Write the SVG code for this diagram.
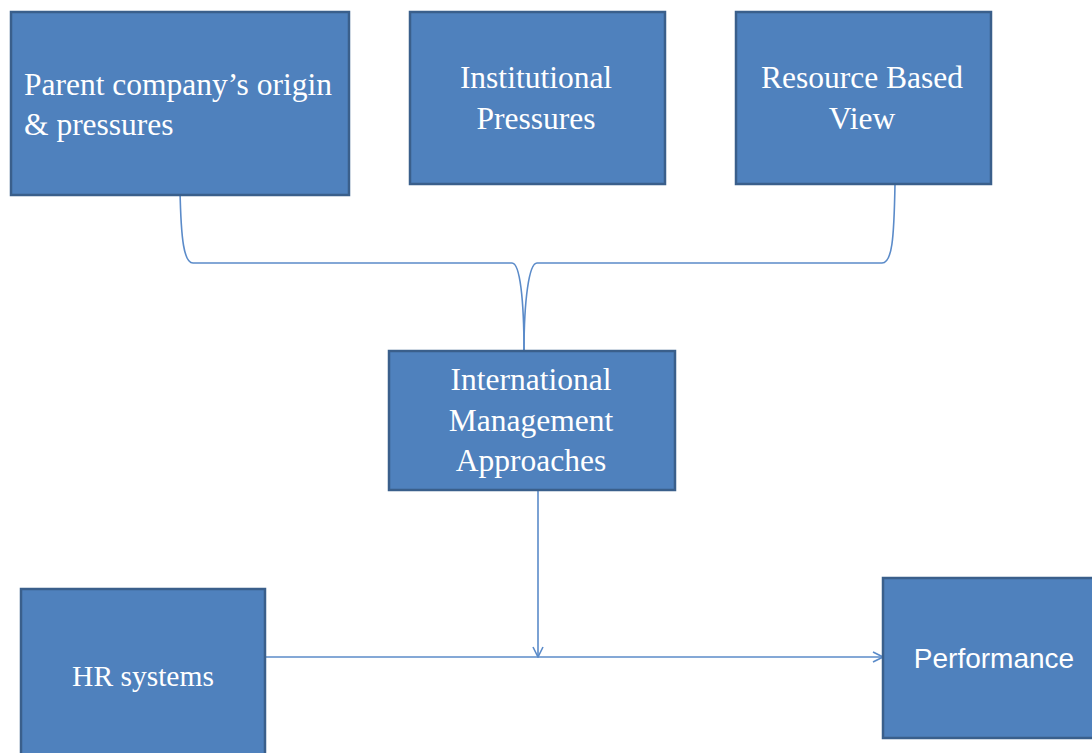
<svg xmlns="http://www.w3.org/2000/svg" width="1092" height="753" viewBox="0 0 1092 753">
<style>
.box{fill:#4F81BD;stroke:#3A5F8B;stroke-width:2.5}
.t{fill:#fff;font-family:"Liberation Serif",serif;font-size:31.5px;text-anchor:middle}
.l{text-anchor:start}
.s{fill:#fff;font-family:"Liberation Sans",sans-serif;font-size:28px;text-anchor:middle}
.c{fill:none;stroke:#5B8BC9;stroke-width:1.6}
</style>
<defs>
<marker id="ah" viewBox="0 0 12 12" refX="11" refY="6" markerWidth="12" markerHeight="12" markerUnits="userSpaceOnUse" orient="auto">
<path d="M1,1 L11,6 L1,11" fill="none" stroke="#5B8BC9" stroke-width="1.6"/>
</marker>
</defs>
<rect width="1092" height="753" fill="#fff"/>
<g id="connectors">
<path class="c" d="M180,168 L180,190 C181,240 184,263 193,263 L512,263 C520,263 524,300 524,352"/>
<path class="c" d="M895,184 C894,240 892,263 882,263 L537,263 C529,263 524,300 524,352"/>
<path class="c" d="M538,490 L538,657" marker-end="url(#ah)"/>
<path class="c" d="M265,657 L883,657" marker-end="url(#ah)"/>
</g>
<g id="n1"><rect class="box" x="11" y="12" width="338" height="183"/>
<text class="t l" x="24" y="95">Parent company’s origin</text>
<text class="t l" x="24" y="135">&amp; pressures</text></g>
<g id="n2"><rect class="box" x="410" y="12" width="255" height="172"/>
<text class="t" x="536" y="88">Institutional</text>
<text class="t" x="536" y="129">Pressures</text></g>
<g id="n3"><rect class="box" x="736" y="12" width="255" height="172"/>
<text class="t" x="862" y="88">Resource Based</text>
<text class="t" x="862" y="129">View</text></g>
<g id="n4"><rect class="box" x="389" y="351" width="286" height="139"/>
<text class="t" x="531" y="390">International</text>
<text class="t" x="531" y="431">Management</text>
<text class="t" x="531" y="471">Approaches</text></g>
<g id="n5"><rect class="box" x="21" y="589" width="244" height="170"/>
<text class="t" x="143" y="686" style="font-size:29.5px">HR systems</text></g>
<g id="n6"><rect class="box" x="883" y="578" width="215" height="160"/>
<text class="s" x="994" y="668">Performance</text></g>
</svg>
